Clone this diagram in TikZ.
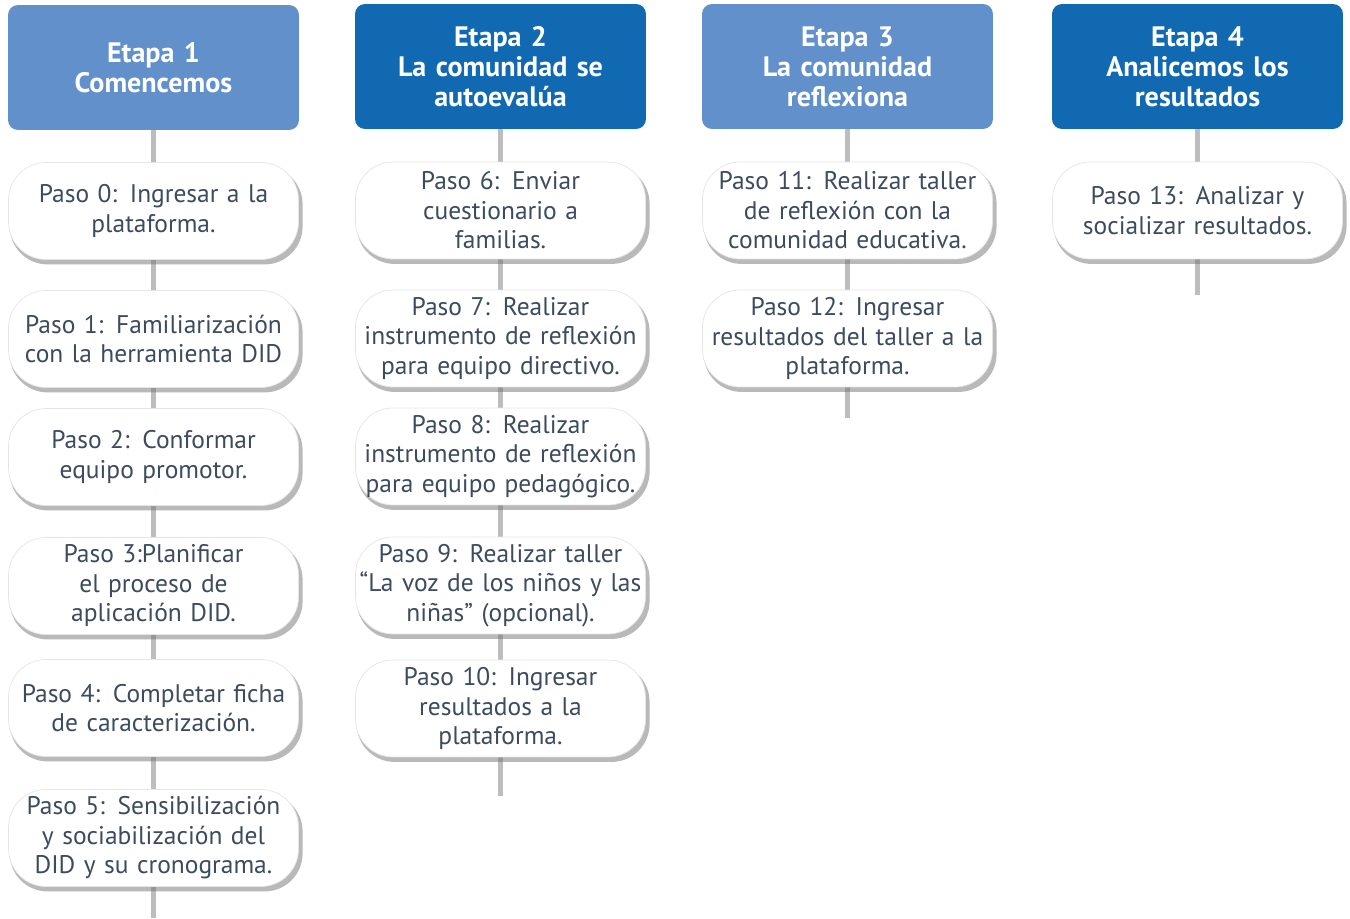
\documentclass[tikz,border=0pt]{standalone}
\usepackage{fontspec}
\setmainfont{PT Sans}
\usetikzlibrary{positioning, shadows, backgrounds}
\definecolor{etapaclara}{HTML}{6290CB}
\definecolor{etapaoscura}{HTML}{1169B2}
\definecolor{textopaso}{HTML}{3D4B5E}
\definecolor{gris}{HTML}{BDBDBD}
\tikzstyle{etapa} = [rectangle, rounded corners=0.2cm, text=white, align=center,
     font=\bfseries\fontsize{16}{17}\selectfont, text width=5.7cm,
     minimum width=5.82cm, minimum height=2.5cm, inner sep=0pt]
\tikzstyle{paso} = [rectangle, rounded corners=0.75cm, fill=white, draw=black!10, text=textopaso,
     drop shadow={shadow xshift=1.5pt, shadow yshift=-2.5pt, shadow scale=1.01, opacity=0.5, fill=black!55},
     align=center, font=\fontsize{14.5}{16.8}\selectfont, text width=5.75cm,
     minimum width=5.8cm, minimum height=1.94cm, inner sep=0pt]
\tikzstyle{linea} = [draw=gris, line width=2.3pt]

\begin{document}
\begin{tikzpicture}[x=0.02cm, y=-0.02cm]
     \useasboundingbox (0,0) rectangle (1350,919);
     % Etapas
     \node [etapa, fill=etapaclara] (e1) at (153.5,67.5) {Etapa 1\\Comencemos};
     \node [etapa, fill=etapaoscura] (e2) at (500.5,66.5) {Etapa 2\\La comunidad se\\autoevalúa};
     \node [etapa, fill=etapaclara] (e3) at (847.5,66.5) {Etapa 3\\La comunidad\\reflexiona};
     \node [etapa, fill=etapaoscura] (e4) at (1197.5,66.5) {Etapa 4\\Analicemos los\\resultados};

     % Pasos etapa 1
     \node [paso] (p0) at (153.5,211) {Paso 0: Ingresar a la\\plataforma.\\[4pt]};
     \node [paso] (p1) at (153.5,339) {Paso 1: Familiarización\\con la herramienta DID};
     \node [paso] (p2) at (153.5,457) {Paso 2: Conformar\\equipo promotor.\\[4pt]};
     \node [paso] (p3) at (153.5,586) {Paso 3:Planificar\\el proceso de\\aplicación DID.};
     \node [paso] (p4) at (153.5,708) {Paso 4: Completar ficha\\de caracterización.};
     \node [paso] (p5) at (153.5,838) {Paso 5: Sensibilización\\y sociabilización del\\DID y su cronograma.};
     \coordinate (f1) at (153.5,918);

     % Pasos etapa 2
     \node [paso] (p6) at (500.5,210.5) {Paso 6: Enviar\\cuestionario a\\familias.};
     \node [paso] (p7) at (500.5,338.5) {Paso 7: Realizar\\instrumento de reflexión\\para equipo directivo.};
     \node [paso] (p8) at (500.5,456.5) {Paso 8: Realizar\\instrumento de reflexión\\para equipo pedagógico.};
     \node [paso] (p9) at (500.5,585.5) {Paso 9: Realizar taller\\“La voz de los niños y las\\niñas” (opcional).};
     \node [paso] (p10) at (500.5,708.5) {Paso 10: Ingresar\\resultados a la\\plataforma.};
     \coordinate (f2) at (500.5,796);

     % Pasos etapa 3
     \node [paso] (p11) at (847.5,210.5) {Paso 11: Realizar taller\\de reflexión con la\\comunidad educativa.};
     \node [paso] (p12) at (847.5,338.5) {Paso 12: Ingresar\\resultados del taller a la\\plataforma.};
     \coordinate (f3) at (847.5,418);

     % Pasos etapa 4
     \node [paso] (p13) at (1197.5,210.5) {Paso 13: Analizar y\\socializar resultados.\\[4pt]};
     \coordinate (f4) at (1197.5,295);

     % Lineas
     \begin{scope}[on background layer]
     \draw [linea] (e1) -- (p0);
     \draw [linea] (p0) -- (p1);
     \draw [linea] (p1) -- (p2);
     \draw [linea] (p2) -- (p3);
     \draw [linea] (p3) -- (p4);
     \draw [linea] (p4) -- (p5);
     \draw [linea] (p5) -- (f1);
     \draw [linea] (e2) -- (p6);
     \draw [linea] (p6) -- (p7);
     \draw [linea] (p7) -- (p8);
     \draw [linea] (p8) -- (p9);
     \draw [linea] (p9) -- (p10);
     \draw [linea] (p10) -- (f2);
     \draw [linea] (e3) -- (p11);
     \draw [linea] (p11) -- (p12);
     \draw [linea] (p12) -- (f3);
     \draw [linea] (e4) -- (p13);
     \draw [linea] (p13) -- (f4);
     \end{scope}
\end{tikzpicture}
\end{document}
